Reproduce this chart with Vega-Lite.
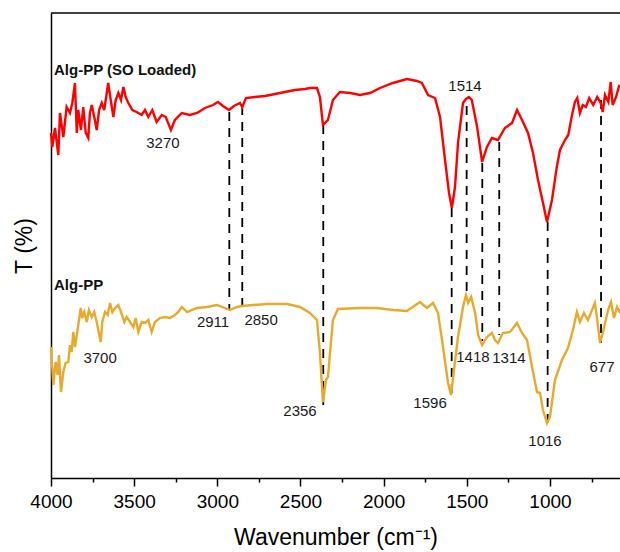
{
  "$schema": "https://vega.github.io/schema/vega-lite/v6.json",
  "width": 569,
  "height": 465,
  "autosize": "none",
  "padding": {"left": 51, "top": 13, "right": 0, "bottom": 74},
  "background": "white",
  "config": {
    "view": {"stroke": null},
    "font": "Liberation Sans",
    "axis": {"grid": false, "domainColor": "black", "domainWidth": 1.5, "tickColor": "black", "tickWidth": 1.5, "labelColor": "black", "titleColor": "black", "titleFontWeight": "normal", "labelFont": "Liberation Sans", "titleFont": "Liberation Sans"}
  },
  "datasets": {
    "spectra": [
      {"wn":4000,"T":345,"series":"Alg-PP (SO Loaded)"},{"wn":3992,"T":331,"series":"Alg-PP (SO Loaded)"},{"wn":3976,"T":350,"series":"Alg-PP (SO Loaded)"},{"wn":3956,"T":323,"series":"Alg-PP (SO Loaded)"},{"wn":3946,"T":365,"series":"Alg-PP (SO Loaded)"},{"wn":3926,"T":341,"series":"Alg-PP (SO Loaded)"},{"wn":3906,"T":371,"series":"Alg-PP (SO Loaded)"},{"wn":3886,"T":365,"series":"Alg-PP (SO Loaded)"},{"wn":3872,"T":375,"series":"Alg-PP (SO Loaded)"},{"wn":3856,"T":395,"series":"Alg-PP (SO Loaded)"},{"wn":3845,"T":345,"series":"Alg-PP (SO Loaded)"},{"wn":3836,"T":368,"series":"Alg-PP (SO Loaded)"},{"wn":3820,"T":348,"series":"Alg-PP (SO Loaded)"},{"wn":3806,"T":371,"series":"Alg-PP (SO Loaded)"},{"wn":3791,"T":345,"series":"Alg-PP (SO Loaded)"},{"wn":3776,"T":340,"series":"Alg-PP (SO Loaded)"},{"wn":3766,"T":365,"series":"Alg-PP (SO Loaded)"},{"wn":3755,"T":373,"series":"Alg-PP (SO Loaded)"},{"wn":3740,"T":361,"series":"Alg-PP (SO Loaded)"},{"wn":3725,"T":348,"series":"Alg-PP (SO Loaded)"},{"wn":3711,"T":368,"series":"Alg-PP (SO Loaded)"},{"wn":3695,"T":375,"series":"Alg-PP (SO Loaded)"},{"wn":3680,"T":368,"series":"Alg-PP (SO Loaded)"},{"wn":3665,"T":385,"series":"Alg-PP (SO Loaded)"},{"wn":3656,"T":395,"series":"Alg-PP (SO Loaded)"},{"wn":3639,"T":376,"series":"Alg-PP (SO Loaded)"},{"wn":3625,"T":361,"series":"Alg-PP (SO Loaded)"},{"wn":3611,"T":378,"series":"Alg-PP (SO Loaded)"},{"wn":3595,"T":385,"series":"Alg-PP (SO Loaded)"},{"wn":3579,"T":378,"series":"Alg-PP (SO Loaded)"},{"wn":3565,"T":391,"series":"Alg-PP (SO Loaded)"},{"wn":3551,"T":381,"series":"Alg-PP (SO Loaded)"},{"wn":3535,"T":375,"series":"Alg-PP (SO Loaded)"},{"wn":3511,"T":368,"series":"Alg-PP (SO Loaded)"},{"wn":3485,"T":366,"series":"Alg-PP (SO Loaded)"},{"wn":3455,"T":363,"series":"Alg-PP (SO Loaded)"},{"wn":3435,"T":368,"series":"Alg-PP (SO Loaded)"},{"wn":3415,"T":361,"series":"Alg-PP (SO Loaded)"},{"wn":3391,"T":368,"series":"Alg-PP (SO Loaded)"},{"wn":3365,"T":356,"series":"Alg-PP (SO Loaded)"},{"wn":3334,"T":363,"series":"Alg-PP (SO Loaded)"},{"wn":3310,"T":361,"series":"Alg-PP (SO Loaded)"},{"wn":3279,"T":348,"series":"Alg-PP (SO Loaded)"},{"wn":3255,"T":358,"series":"Alg-PP (SO Loaded)"},{"wn":3214,"T":365,"series":"Alg-PP (SO Loaded)"},{"wn":3164,"T":363,"series":"Alg-PP (SO Loaded)"},{"wn":3122,"T":365,"series":"Alg-PP (SO Loaded)"},{"wn":3074,"T":370,"series":"Alg-PP (SO Loaded)"},{"wn":3026,"T":373,"series":"Alg-PP (SO Loaded)"},{"wn":2996,"T":376,"series":"Alg-PP (SO Loaded)"},{"wn":2966,"T":372,"series":"Alg-PP (SO Loaded)"},{"wn":2930,"T":368,"series":"Alg-PP (SO Loaded)"},{"wn":2900,"T":372,"series":"Alg-PP (SO Loaded)"},{"wn":2864,"T":375,"series":"Alg-PP (SO Loaded)"},{"wn":2850,"T":371,"series":"Alg-PP (SO Loaded)"},{"wn":2828,"T":380,"series":"Alg-PP (SO Loaded)"},{"wn":2774,"T":381,"series":"Alg-PP (SO Loaded)"},{"wn":2713,"T":382,"series":"Alg-PP (SO Loaded)"},{"wn":2653,"T":384,"series":"Alg-PP (SO Loaded)"},{"wn":2593,"T":386,"series":"Alg-PP (SO Loaded)"},{"wn":2533,"T":388,"series":"Alg-PP (SO Loaded)"},{"wn":2473,"T":389,"series":"Alg-PP (SO Loaded)"},{"wn":2443,"T":390,"series":"Alg-PP (SO Loaded)"},{"wn":2401,"T":390,"series":"Alg-PP (SO Loaded)"},{"wn":2383,"T":381,"series":"Alg-PP (SO Loaded)"},{"wn":2365,"T":353,"series":"Alg-PP (SO Loaded)"},{"wn":2335,"T":358,"series":"Alg-PP (SO Loaded)"},{"wn":2305,"T":378,"series":"Alg-PP (SO Loaded)"},{"wn":2263,"T":386,"series":"Alg-PP (SO Loaded)"},{"wn":2202,"T":385,"series":"Alg-PP (SO Loaded)"},{"wn":2142,"T":383,"series":"Alg-PP (SO Loaded)"},{"wn":2082,"T":385,"series":"Alg-PP (SO Loaded)"},{"wn":2022,"T":390,"series":"Alg-PP (SO Loaded)"},{"wn":1944,"T":395,"series":"Alg-PP (SO Loaded)"},{"wn":1860,"T":399,"series":"Alg-PP (SO Loaded)"},{"wn":1800,"T":397,"series":"Alg-PP (SO Loaded)"},{"wn":1770,"T":395,"series":"Alg-PP (SO Loaded)"},{"wn":1733,"T":383,"series":"Alg-PP (SO Loaded)"},{"wn":1691,"T":380,"series":"Alg-PP (SO Loaded)"},{"wn":1661,"T":361,"series":"Alg-PP (SO Loaded)"},{"wn":1631,"T":318,"series":"Alg-PP (SO Loaded)"},{"wn":1607,"T":285,"series":"Alg-PP (SO Loaded)"},{"wn":1590,"T":270,"series":"Alg-PP (SO Loaded)"},{"wn":1571,"T":291,"series":"Alg-PP (SO Loaded)"},{"wn":1553,"T":335,"series":"Alg-PP (SO Loaded)"},{"wn":1523,"T":375,"series":"Alg-PP (SO Loaded)"},{"wn":1505,"T":379,"series":"Alg-PP (SO Loaded)"},{"wn":1487,"T":381,"series":"Alg-PP (SO Loaded)"},{"wn":1470,"T":378,"series":"Alg-PP (SO Loaded)"},{"wn":1438,"T":351,"series":"Alg-PP (SO Loaded)"},{"wn":1408,"T":316,"series":"Alg-PP (SO Loaded)"},{"wn":1379,"T":331,"series":"Alg-PP (SO Loaded)"},{"wn":1349,"T":340,"series":"Alg-PP (SO Loaded)"},{"wn":1313,"T":338,"series":"Alg-PP (SO Loaded)"},{"wn":1271,"T":350,"series":"Alg-PP (SO Loaded)"},{"wn":1228,"T":355,"series":"Alg-PP (SO Loaded)"},{"wn":1198,"T":368,"series":"Alg-PP (SO Loaded)"},{"wn":1168,"T":358,"series":"Alg-PP (SO Loaded)"},{"wn":1132,"T":345,"series":"Alg-PP (SO Loaded)"},{"wn":1102,"T":325,"series":"Alg-PP (SO Loaded)"},{"wn":1072,"T":298,"series":"Alg-PP (SO Loaded)"},{"wn":1042,"T":275,"series":"Alg-PP (SO Loaded)"},{"wn":1018,"T":256,"series":"Alg-PP (SO Loaded)"},{"wn":988,"T":278,"series":"Alg-PP (SO Loaded)"},{"wn":960,"T":310,"series":"Alg-PP (SO Loaded)"},{"wn":940,"T":328,"series":"Alg-PP (SO Loaded)"},{"wn":910,"T":338,"series":"Alg-PP (SO Loaded)"},{"wn":890,"T":343,"series":"Alg-PP (SO Loaded)"},{"wn":870,"T":361,"series":"Alg-PP (SO Loaded)"},{"wn":850,"T":376,"series":"Alg-PP (SO Loaded)"},{"wn":836,"T":380,"series":"Alg-PP (SO Loaded)"},{"wn":820,"T":365,"series":"Alg-PP (SO Loaded)"},{"wn":803,"T":373,"series":"Alg-PP (SO Loaded)"},{"wn":784,"T":371,"series":"Alg-PP (SO Loaded)"},{"wn":764,"T":380,"series":"Alg-PP (SO Loaded)"},{"wn":740,"T":373,"series":"Alg-PP (SO Loaded)"},{"wn":716,"T":381,"series":"Alg-PP (SO Loaded)"},{"wn":695,"T":375,"series":"Alg-PP (SO Loaded)"},{"wn":683,"T":366,"series":"Alg-PP (SO Loaded)"},{"wn":669,"T":383,"series":"Alg-PP (SO Loaded)"},{"wn":649,"T":376,"series":"Alg-PP (SO Loaded)"},{"wn":635,"T":396,"series":"Alg-PP (SO Loaded)"},{"wn":623,"T":373,"series":"Alg-PP (SO Loaded)"},{"wn":603,"T":381,"series":"Alg-PP (SO Loaded)"},{"wn":583,"T":393,"series":"Alg-PP (SO Loaded)"},{"wn":579,"T":390,"series":"Alg-PP (SO Loaded)"},
      {"wn":4000,"T":131,"series":"Alg-PP"},{"wn":3986,"T":93,"series":"Alg-PP"},{"wn":3972,"T":116,"series":"Alg-PP"},{"wn":3960,"T":103,"series":"Alg-PP"},{"wn":3952,"T":123,"series":"Alg-PP"},{"wn":3940,"T":86,"series":"Alg-PP"},{"wn":3926,"T":106,"series":"Alg-PP"},{"wn":3912,"T":115,"series":"Alg-PP"},{"wn":3896,"T":116,"series":"Alg-PP"},{"wn":3886,"T":133,"series":"Alg-PP"},{"wn":3876,"T":126,"series":"Alg-PP"},{"wn":3866,"T":146,"series":"Alg-PP"},{"wn":3856,"T":131,"series":"Alg-PP"},{"wn":3845,"T":143,"series":"Alg-PP"},{"wn":3836,"T":153,"series":"Alg-PP"},{"wn":3821,"T":170,"series":"Alg-PP"},{"wn":3812,"T":160,"series":"Alg-PP"},{"wn":3800,"T":166,"series":"Alg-PP"},{"wn":3785,"T":156,"series":"Alg-PP"},{"wn":3772,"T":168,"series":"Alg-PP"},{"wn":3755,"T":161,"series":"Alg-PP"},{"wn":3740,"T":166,"series":"Alg-PP"},{"wn":3725,"T":156,"series":"Alg-PP"},{"wn":3710,"T":143,"series":"Alg-PP"},{"wn":3701,"T":136,"series":"Alg-PP"},{"wn":3692,"T":156,"series":"Alg-PP"},{"wn":3675,"T":166,"series":"Alg-PP"},{"wn":3659,"T":163,"series":"Alg-PP"},{"wn":3645,"T":175,"series":"Alg-PP"},{"wn":3631,"T":166,"series":"Alg-PP"},{"wn":3615,"T":170,"series":"Alg-PP"},{"wn":3595,"T":173,"series":"Alg-PP"},{"wn":3579,"T":166,"series":"Alg-PP"},{"wn":3559,"T":156,"series":"Alg-PP"},{"wn":3545,"T":161,"series":"Alg-PP"},{"wn":3525,"T":156,"series":"Alg-PP"},{"wn":3505,"T":151,"series":"Alg-PP"},{"wn":3491,"T":160,"series":"Alg-PP"},{"wn":3475,"T":146,"series":"Alg-PP"},{"wn":3455,"T":156,"series":"Alg-PP"},{"wn":3435,"T":155,"series":"Alg-PP"},{"wn":3415,"T":158,"series":"Alg-PP"},{"wn":3395,"T":146,"series":"Alg-PP"},{"wn":3375,"T":156,"series":"Alg-PP"},{"wn":3345,"T":160,"series":"Alg-PP"},{"wn":3315,"T":161,"series":"Alg-PP"},{"wn":3285,"T":160,"series":"Alg-PP"},{"wn":3255,"T":163,"series":"Alg-PP"},{"wn":3235,"T":166,"series":"Alg-PP"},{"wn":3214,"T":171,"series":"Alg-PP"},{"wn":3182,"T":166,"series":"Alg-PP"},{"wn":3122,"T":170,"series":"Alg-PP"},{"wn":3062,"T":171,"series":"Alg-PP"},{"wn":3002,"T":173,"series":"Alg-PP"},{"wn":2924,"T":168,"series":"Alg-PP"},{"wn":2882,"T":171,"series":"Alg-PP"},{"wn":2850,"T":172,"series":"Alg-PP"},{"wn":2786,"T":173,"series":"Alg-PP"},{"wn":2701,"T":174,"series":"Alg-PP"},{"wn":2581,"T":174,"series":"Alg-PP"},{"wn":2503,"T":171,"series":"Alg-PP"},{"wn":2443,"T":165,"series":"Alg-PP"},{"wn":2401,"T":158,"series":"Alg-PP"},{"wn":2383,"T":125,"series":"Alg-PP"},{"wn":2365,"T":76,"series":"Alg-PP"},{"wn":2347,"T":98,"series":"Alg-PP"},{"wn":2335,"T":101,"series":"Alg-PP"},{"wn":2305,"T":158,"series":"Alg-PP"},{"wn":2275,"T":169,"series":"Alg-PP"},{"wn":2142,"T":170,"series":"Alg-PP"},{"wn":2040,"T":170,"series":"Alg-PP"},{"wn":1944,"T":168,"series":"Alg-PP"},{"wn":1860,"T":167,"series":"Alg-PP"},{"wn":1782,"T":176,"series":"Alg-PP"},{"wn":1740,"T":170,"series":"Alg-PP"},{"wn":1703,"T":175,"series":"Alg-PP"},{"wn":1673,"T":165,"series":"Alg-PP"},{"wn":1643,"T":131,"series":"Alg-PP"},{"wn":1613,"T":95,"series":"Alg-PP"},{"wn":1595,"T":83,"series":"Alg-PP"},{"wn":1577,"T":108,"series":"Alg-PP"},{"wn":1553,"T":141,"series":"Alg-PP"},{"wn":1523,"T":171,"series":"Alg-PP"},{"wn":1505,"T":183,"series":"Alg-PP"},{"wn":1492,"T":175,"series":"Alg-PP"},{"wn":1474,"T":181,"series":"Alg-PP"},{"wn":1450,"T":165,"series":"Alg-PP"},{"wn":1432,"T":143,"series":"Alg-PP"},{"wn":1408,"T":133,"series":"Alg-PP"},{"wn":1379,"T":141,"series":"Alg-PP"},{"wn":1349,"T":145,"series":"Alg-PP"},{"wn":1331,"T":138,"series":"Alg-PP"},{"wn":1313,"T":135,"series":"Alg-PP"},{"wn":1283,"T":145,"series":"Alg-PP"},{"wn":1240,"T":146,"series":"Alg-PP"},{"wn":1198,"T":155,"series":"Alg-PP"},{"wn":1168,"T":145,"series":"Alg-PP"},{"wn":1138,"T":138,"series":"Alg-PP"},{"wn":1108,"T":111,"series":"Alg-PP"},{"wn":1078,"T":86,"series":"Alg-PP"},{"wn":1060,"T":85,"series":"Alg-PP"},{"wn":1042,"T":68,"series":"Alg-PP"},{"wn":1018,"T":55,"series":"Alg-PP"},{"wn":1000,"T":61,"series":"Alg-PP"},{"wn":970,"T":98,"series":"Alg-PP"},{"wn":928,"T":118,"series":"Alg-PP"},{"wn":892,"T":130,"series":"Alg-PP"},{"wn":862,"T":148,"series":"Alg-PP"},{"wn":838,"T":166,"series":"Alg-PP"},{"wn":820,"T":156,"series":"Alg-PP"},{"wn":796,"T":165,"series":"Alg-PP"},{"wn":772,"T":158,"series":"Alg-PP"},{"wn":730,"T":175,"series":"Alg-PP"},{"wn":718,"T":161,"series":"Alg-PP"},{"wn":699,"T":135,"series":"Alg-PP"},{"wn":681,"T":146,"series":"Alg-PP"},{"wn":651,"T":168,"series":"Alg-PP"},{"wn":633,"T":176,"series":"Alg-PP"},{"wn":615,"T":160,"series":"Alg-PP"},{"wn":597,"T":171,"series":"Alg-PP"},{"wn":579,"T":165,"series":"Alg-PP"}
    ],
    "peaks": [
      {"wn":2928,"top":366,"bottom":168},
      {"wn":2850,"top":372,"bottom":171},
      {"wn":2363,"top":353,"bottom":73},
      {"wn":1591,"top":270,"bottom":83},
      {"wn":1501,"top":372,"bottom":178},
      {"wn":1407,"top":315,"bottom":137},
      {"wn":1305,"top":336,"bottom":143},
      {"wn":1014,"top":256,"bottom":54},
      {"wn":693,"top":378,"bottom":135}
    ],
    "labels": [
      {"wn":3327,"T":335,"text":"3270"},
      {"wn":1511,"T":392,"text":"1514"},
      {"wn":3026,"T":156,"text":"2911"},
      {"wn":2737,"T":158,"text":"2850"},
      {"wn":3705,"T":120,"text":"3700"},
      {"wn":2503,"T":67,"text":"2356"},
      {"wn":1721,"T":75,"text":"1596"},
      {"wn":1463,"T":121,"text":"1418"},
      {"wn":1247,"T":120,"text":"1314"},
      {"wn":1030,"T":37,"text":"1016"},
      {"wn":687,"T":111,"text":"677"}
    ],
    "names": [
      {"wn":3982,"T":408,"text":"Alg-PP (SO Loaded)"},
      {"wn":3982,"T":193,"text":"Alg-PP"}
    ]
  },
  "layer": [
    {
      "data": {"name": "peaks"},
      "mark": {"type": "rule", "color": "black", "strokeWidth": 1.8, "strokeDash": [9, 7]},
      "encoding": {
        "x": {"field": "wn", "type": "quantitative",
          "scale": {"domain": [4000, 579], "nice": false, "zero": false},
          "axis": {
            "values": [4000,3750,3500,3250,3000,2750,2500,2250,2000,1750,1500,1250,1000,750],
            "labelExpr": "datum.value % 500 === 0 ? datum.label : ''",
            "format": "d",
            "labelFlush": false,
            "labelOverlap": false,
            "tickSize": {"expr": "datum.value % 500 === 0 ? 8 : 4"},
            "labelFontSize": 19,
            "labelPadding": 6,
            "title": "Wavenumber (cm⁻¹)",
            "titleFontSize": 23,
            "titlePadding": 15
          }},
        "y": {"field": "top", "type": "quantitative",
          "scale": {"domain": [0, 465], "nice": false, "zero": false},
          "axis": {"labels": false, "ticks": false, "title": "T (%)", "titleFontSize": 23, "titlePadding": 15}},
        "y2": {"field": "bottom"}
      }
    },
    {
      "data": {"name": "spectra"},
      "mark": {"type": "line", "strokeWidth": 2.4, "interpolate": "linear"},
      "encoding": {
        "x": {"field": "wn", "type": "quantitative"},
        "y": {"field": "T", "type": "quantitative"},
        "color": {"field": "series", "type": "nominal",
          "scale": {"domain": ["Alg-PP (SO Loaded)", "Alg-PP"], "range": ["#FF0000", "#E8A92C"]},
          "legend": null}
      }
    },
    {
      "data": {"name": "labels"},
      "mark": {"type": "text", "fontSize": 15, "color": "#1a1a1a", "align": "center", "baseline": "middle", "font": "Liberation Sans"},
      "encoding": {
        "x": {"field": "wn", "type": "quantitative"},
        "y": {"field": "T", "type": "quantitative"},
        "text": {"field": "text"}
      }
    },
    {
      "data": {"name": "names"},
      "mark": {"type": "text", "fontSize": 15, "fontWeight": "bold", "color": "#111", "align": "left", "baseline": "middle", "font": "Liberation Sans"},
      "encoding": {
        "x": {"field": "wn", "type": "quantitative"},
        "y": {"field": "T", "type": "quantitative"},
        "text": {"field": "text"}
      }
    },
    {
      "data": {"values": [{"edge": 465}]},
      "mark": {"type": "rule", "color": "black", "strokeWidth": 1.5},
      "encoding": {
        "y": {"field": "edge", "type": "quantitative"}
      }
    }
  ]
}
